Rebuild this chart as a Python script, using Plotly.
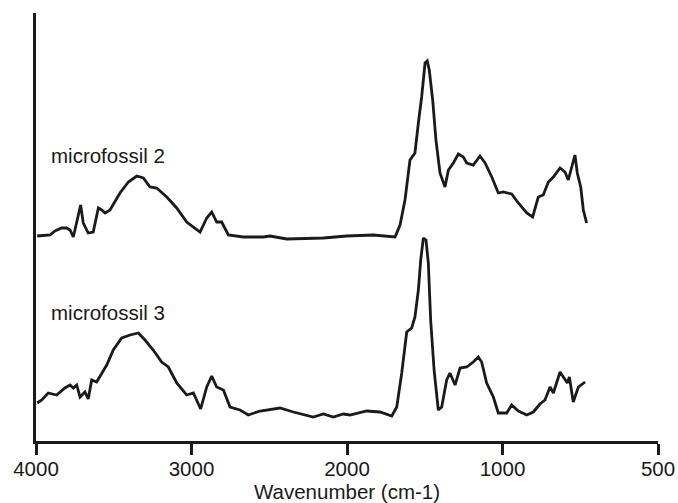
import plotly.graph_objects as go

# Tick labels on the wavenumber axis (evenly spaced in the reference: the
# 1000-500 segment is drawn at twice the scale of the 4000-1000 range)
tick_wavenumbers = [4000, 3000, 2000, 1000, 500]

# microfossil 2 spectrum (wavenumber cm-1, absorbance a.u.)
mf2_wn = [3992, 3910, 3878, 3835, 3803, 3781, 3760, 3738, 3713, 3696, 3664, 3632,
          3599, 3577, 3556, 3524, 3460, 3406, 3352, 3310, 3267, 3224, 3159, 3095,
          3031, 2945, 2902, 2870, 2838, 2806, 2763, 2667, 2538, 2495, 2388, 2152,
          2002, 1831, 1691, 1659, 1627, 1595, 1563, 1541, 1520, 1498, 1484, 1471,
          1449, 1428, 1402, 1370, 1348, 1316, 1284, 1252, 1230, 1188, 1145, 1112,
          1069, 1027, 997.5, 970.5, 949, 922, 903, 885, 869, 852.5, 836.5, 815,
          799, 788.5, 777.5, 767, 759.5, 748.5, 740, 729.5]
mf2_abs = [2.05, 2.06, 2.10, 2.13, 2.13, 2.11, 2.04, 2.18, 2.36, 2.18, 2.08, 2.09,
           2.33, 2.31, 2.28, 2.31, 2.48, 2.59, 2.65, 2.63, 2.54, 2.53, 2.44, 2.33,
           2.19, 2.09, 2.23, 2.29, 2.19, 2.19, 2.06, 2.04, 2.04, 2.05, 2.02, 2.03,
           2.05, 2.06, 2.04, 2.16, 2.41, 2.81, 2.88, 3.18, 3.44, 3.78, 3.80, 3.71,
           3.41, 3.01, 2.68, 2.54, 2.71, 2.78, 2.87, 2.84, 2.78, 2.76, 2.85, 2.78,
           2.64, 2.48, 2.49, 2.47, 2.38, 2.28, 2.24, 2.44, 2.46, 2.59, 2.64, 2.73,
           2.69, 2.61, 2.74, 2.86, 2.68, 2.54, 2.31, 2.18]

# microfossil 3 spectrum
mf3_wn = [3992, 3963, 3921, 3867, 3814, 3781, 3760, 3738, 3717, 3685, 3664, 3642,
          3610, 3577, 3545, 3503, 3449, 3395, 3342, 3299, 3246, 3192, 3149, 3095,
          3031, 2988, 2941, 2902, 2870, 2838, 2795, 2752, 2688, 2635, 2559, 2431,
          2345, 2217, 2152, 2088, 2024, 1981, 1873, 1788, 1712, 1680, 1648, 1616,
          1584, 1563, 1541, 1526, 1509, 1492, 1477, 1462, 1440, 1413, 1391, 1359,
          1338, 1305, 1273, 1230, 1188, 1156, 1134, 1102, 1059, 1027, 986.5, 970.5,
          949, 922, 901, 879.5, 863.5, 847, 836.5, 815, 804.5, 791.5, 785, 772.5,
          756, 734.5]
mf3_abs = [0.38, 0.41, 0.48, 0.46, 0.53, 0.56, 0.53, 0.56, 0.44, 0.49, 0.42, 0.61,
           0.59, 0.68, 0.76, 0.91, 1.03, 1.06, 1.08, 1.01, 0.91, 0.79, 0.74, 0.58,
           0.46, 0.48, 0.32, 0.54, 0.65, 0.54, 0.51, 0.34, 0.31, 0.26, 0.30, 0.33,
           0.29, 0.24, 0.27, 0.24, 0.27, 0.26, 0.30, 0.29, 0.25, 0.34, 0.68, 1.09,
           1.13, 1.24, 1.51, 1.81, 2.03, 2.01, 1.78, 1.21, 0.71, 0.31, 0.34, 0.61,
           0.68, 0.56, 0.73, 0.74, 0.79, 0.84, 0.79, 0.58, 0.44, 0.28, 0.28, 0.36,
           0.30, 0.26, 0.29, 0.37, 0.41, 0.54, 0.48, 0.69, 0.64, 0.58, 0.64, 0.39,
           0.54, 0.59]

series_names = ["microfossil 2", "microfossil 3"]


def axis_pos(w):
    """Piecewise axis: 4000-1000 linear, 1000-500 expanded 2x."""
    return w if w >= 1000 else 2 * w - 1000


INK = "#1a1a1a"
FONT = "Liberation Sans, Arial, sans-serif"

fig = go.Figure()
for wn, ab, name in [(mf2_wn, mf2_abs, series_names[0]), (mf3_wn, mf3_abs, series_names[1])]:
    fig.add_trace(go.Scatter(
        x=[axis_pos(w) for w in wn], y=ab, mode="lines", name=name,
        line=dict(color=INK, width=2.8), showlegend=False, cliponaxis=False,
    ))

fig.add_annotation(text=series_names[0], xref="paper", yref="paper", x=0.021, y=0.666,
                   xanchor="left", yanchor="middle", showarrow=False,
                   font=dict(size=20.5, color=INK, family=FONT))
fig.add_annotation(text=series_names[1], xref="paper", yref="paper", x=0.021, y=0.301,
                   xanchor="left", yanchor="middle", showarrow=False,
                   font=dict(size=20.5, color=INK, family=FONT))

fig.update_layout(
    width=678, height=503,
    margin=dict(l=36, r=20, t=13, b=62, autoexpand=False),
    paper_bgcolor="white", plot_bgcolor="white",
    font=dict(family=FONT, size=20.5, color=INK),
    xaxis=dict(
        range=[axis_pos(tick_wavenumbers[0]), axis_pos(tick_wavenumbers[-1])],
        tickvals=[axis_pos(w) for w in tick_wavenumbers],
        ticktext=[str(w) for w in tick_wavenumbers],
        ticks="outside", ticklen=11, tickwidth=2.5, tickcolor=INK,
        showline=True, linewidth=2.5, linecolor=INK,
        showgrid=False, zeroline=False, automargin=False,
        tickfont=dict(size=20.5, color=INK),
        ticklabelstandoff=-3,
        title=dict(text="Wavenumber (cm-1)", font=dict(size=20.5, color=INK), standoff=0),
    ),
    yaxis=dict(
        range=[0, 4.28], showline=True, linewidth=3, linecolor=INK,
        showticklabels=False, ticks="", showgrid=False, zeroline=False,
        automargin=False,
    ),
)

fig.write_html("out.html",
               config={"displayModeBar": False},
               post_script="document.body.style.margin='0';document.body.style.overflow='hidden';")
